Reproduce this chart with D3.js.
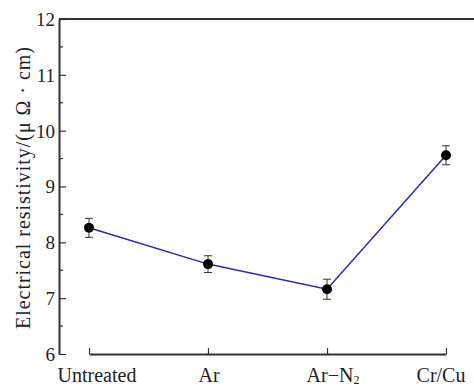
<!DOCTYPE html>
<html>
<head>
<meta charset="utf-8">
<script src="https://cdn.jsdelivr.net/npm/d3@7"></script>
<style>
  body { margin: 0; background: #fff; }
  svg text { font-family: "Liberation Serif", "Times New Roman", serif; fill: #222; }
</style>
</head>
<body>
<div id="graph"></div>
<script>
// values
var categories = ["Untreated", "Ar", "Ar-N2", "Cr/Cu"];
var resistivity = [8.26, 7.61, 7.16, 9.56];
var errors = [0.17, 0.15, 0.18, 0.17];
var yTicks = [6, 7, 8, 9, 10, 11, 12];

var W = 474, H = 386;
var margin = { top: 19, right: -4, bottom: 32, left: 59 },
    width = W - margin.left - margin.right,
    height = H - margin.top - margin.bottom;

var svg = d3.select("#graph")
    .append("svg")
    .attr("width", W)
    .attr("height", H)
    .append("g")
    .attr("transform", "translate(" + margin.left + "," + margin.top + ")");

var xScale = d3.scalePoint().domain(categories).range([30, 387]);
var yScale = d3.scaleLinear().domain([6, 12]).range([height, 0]);

var data = categories.map(function (c, i) {
    return { cat: c, v: resistivity[i], e: errors[i] };
});

// minor ticks every 0.5
var minor = d3.range(6.5, 12, 1);
svg.append("g")
    .selectAll("line")
    .data(minor)
    .enter()
    .append("line")
    .attr("x1", 0).attr("x2", 4)
    .attr("y1", function (d) { return yScale(d); })
    .attr("y2", function (d) { return yScale(d); })
    .attr("stroke", "#333").attr("stroke-width", 1.2);

var yAxis = d3.axisLeft(yScale).tickValues(yTicks).tickFormat(d3.format("d"))
    .tickSizeInner(-7).tickSizeOuter(0).tickPadding(4);
svg.append("g")
    .attr("class", "yaxis")
    .call(yAxis);

var xAxis = d3.axisBottom(xScale).tickSizeInner(-6).tickSizeOuter(0).tickFormat("");
svg.append("g")
    .attr("class", "xaxis")
    .attr("transform", "translate(0," + height + ")")
    .call(xAxis);

svg.selectAll(".yaxis path, .xaxis path").attr("stroke", "#333").attr("stroke-width", 2);
svg.selectAll(".yaxis line, .xaxis line").attr("stroke", "#333").attr("stroke-width", 1.2);
svg.selectAll(".yaxis text")
    .style("font-size", "19px")
    .attr("fill", "#222")
    .attr("dy", "0.34em");

// top border
svg.append("line")
    .attr("x1", 0).attr("x2", width)
    .attr("y1", 0).attr("y2", 0)
    .attr("stroke", "#333").attr("stroke-width", 2);

// x labels (Ar-N2 gets a subscript); end labels nudged inward like the original
var nudge = { "Untreated": 8, "Ar": 1, "Ar-N2": 6, "Cr/Cu": -5 };
var xl = svg.append("g").attr("class", "xlabels");
categories.forEach(function (c) {
    var t = xl.append("text")
        .attr("x", xScale(c) + nudge[c])
        .attr("y", height + 28)
        .attr("text-anchor", "middle")
        .style("font-size", "20px");
    if (c == "Ar-N2") {
        t.append("tspan").text("Ar\u2212N");
        t.append("tspan").text("2").style("font-size", "12px").attr("dy", 2);
    } else {
        t.text(c);
    }
});

svg.append("text")
    .attr("transform", "rotate(-90)")
    .attr("x", -169)
    .attr("y", -29)
    .style("text-anchor", "middle")
    .style("font-size", "20px")
    .attr("textLength", 282)
    .attr("lengthAdjust", "spacing")
    .text("Electrical resistivity/(\u03bc \u03a9 \u00b7 cm)");

// line
svg.append("path")
    .datum(data)
    .attr("d", d3.line()
        .x(function (d) { return xScale(d.cat); })
        .y(function (d) { return yScale(d.v); }))
    .attr("stroke", "#2828b4")
    .style("stroke-width", 1.5)
    .style("fill", "none");

// error bars
var eb = svg.append("g").selectAll("g").data(data).enter().append("g");
eb.append("line")
    .attr("x1", function (d) { return xScale(d.cat); })
    .attr("x2", function (d) { return xScale(d.cat); })
    .attr("y1", function (d) { return yScale(d.v - d.e); })
    .attr("y2", function (d) { return yScale(d.v + d.e); })
    .attr("stroke", "#333").attr("stroke-width", 1);
[-1, 1].forEach(function (s) {
    eb.append("line")
        .attr("x1", function (d) { return xScale(d.cat) - 4; })
        .attr("x2", function (d) { return xScale(d.cat) + 4; })
        .attr("y1", function (d) { return yScale(d.v + s * d.e); })
        .attr("y2", function (d) { return yScale(d.v + s * d.e); })
        .attr("stroke", "#333").attr("stroke-width", 1);
});

svg.append("g")
    .selectAll("circle")
    .data(data)
    .enter()
    .append("circle")
    .attr("cx", function (d) { return xScale(d.cat); })
    .attr("cy", function (d) { return yScale(d.v); })
    .attr("r", 5)
    .attr("fill", "#000");
</script>
</body>
</html>
